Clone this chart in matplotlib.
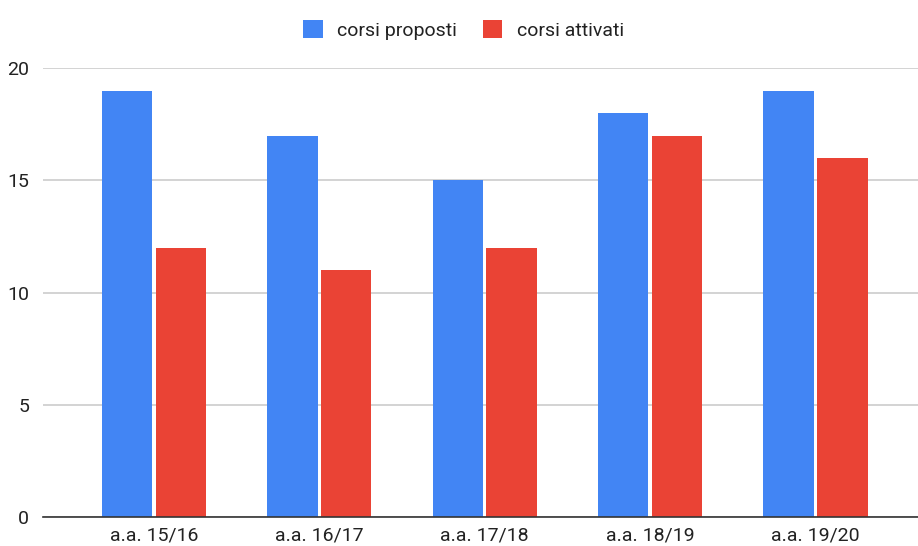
import matplotlib
matplotlib.use("Agg")
import matplotlib.pyplot as plt
import numpy as np

plt.rcParams['font.family'] = ['Roboto', 'DejaVu Sans']

anni = ['a.a. 15/16', 'a.a. 16/17', 'a.a. 17/18', 'a.a. 18/19', 'a.a. 19/20']
corsi_proposti = [19, 17, 15, 18, 19]
corsi_attivati = [12, 11, 12, 17, 16]

blu = '#4285F4'
rosso = '#EA4335'

fig = plt.figure(figsize=(9.18, 5.46), dpi=100)
ax = fig.add_axes([0.047, 0.053, 0.953, 0.822])

x = np.arange(len(anni))
w = 0.305
ax.bar(x - w / 2 - 0.01, corsi_proposti, w, color=blu, label='corsi proposti', zorder=3)
ax.bar(x + w / 2 + 0.01, corsi_attivati, w, color=rosso, label='corsi attivati', zorder=3)

ax.set_ylim(0, 20)
ax.set_xlim(-0.67, 4.62)
ax.set_yticks([0, 5, 10, 15, 20])
ax.set_xticks(x)
ax.set_xticklabels(anni)
ax.tick_params(axis='both', length=0, labelsize=14, colors='#222222', pad=7)
ax.tick_params(axis='y', pad=10)

ax.grid(axis='y', color='#cccccc', linewidth=1.2, zorder=0)
for s in ['top', 'right', 'left']:
    ax.spines[s].set_visible(False)
ax.spines['bottom'].set_color('#333333')
ax.spines['bottom'].set_linewidth(1.2)
ax.spines['bottom'].set_zorder(4)

fig.legend(loc='upper center', bbox_to_anchor=(0.505, 0.995), ncol=2, frameon=False,
           fontsize=14, handlelength=1.0, handleheight=1.0, columnspacing=1.3,
           handletextpad=0.75, labelcolor='#222222')

plt.savefig('out.png', dpi=100)
